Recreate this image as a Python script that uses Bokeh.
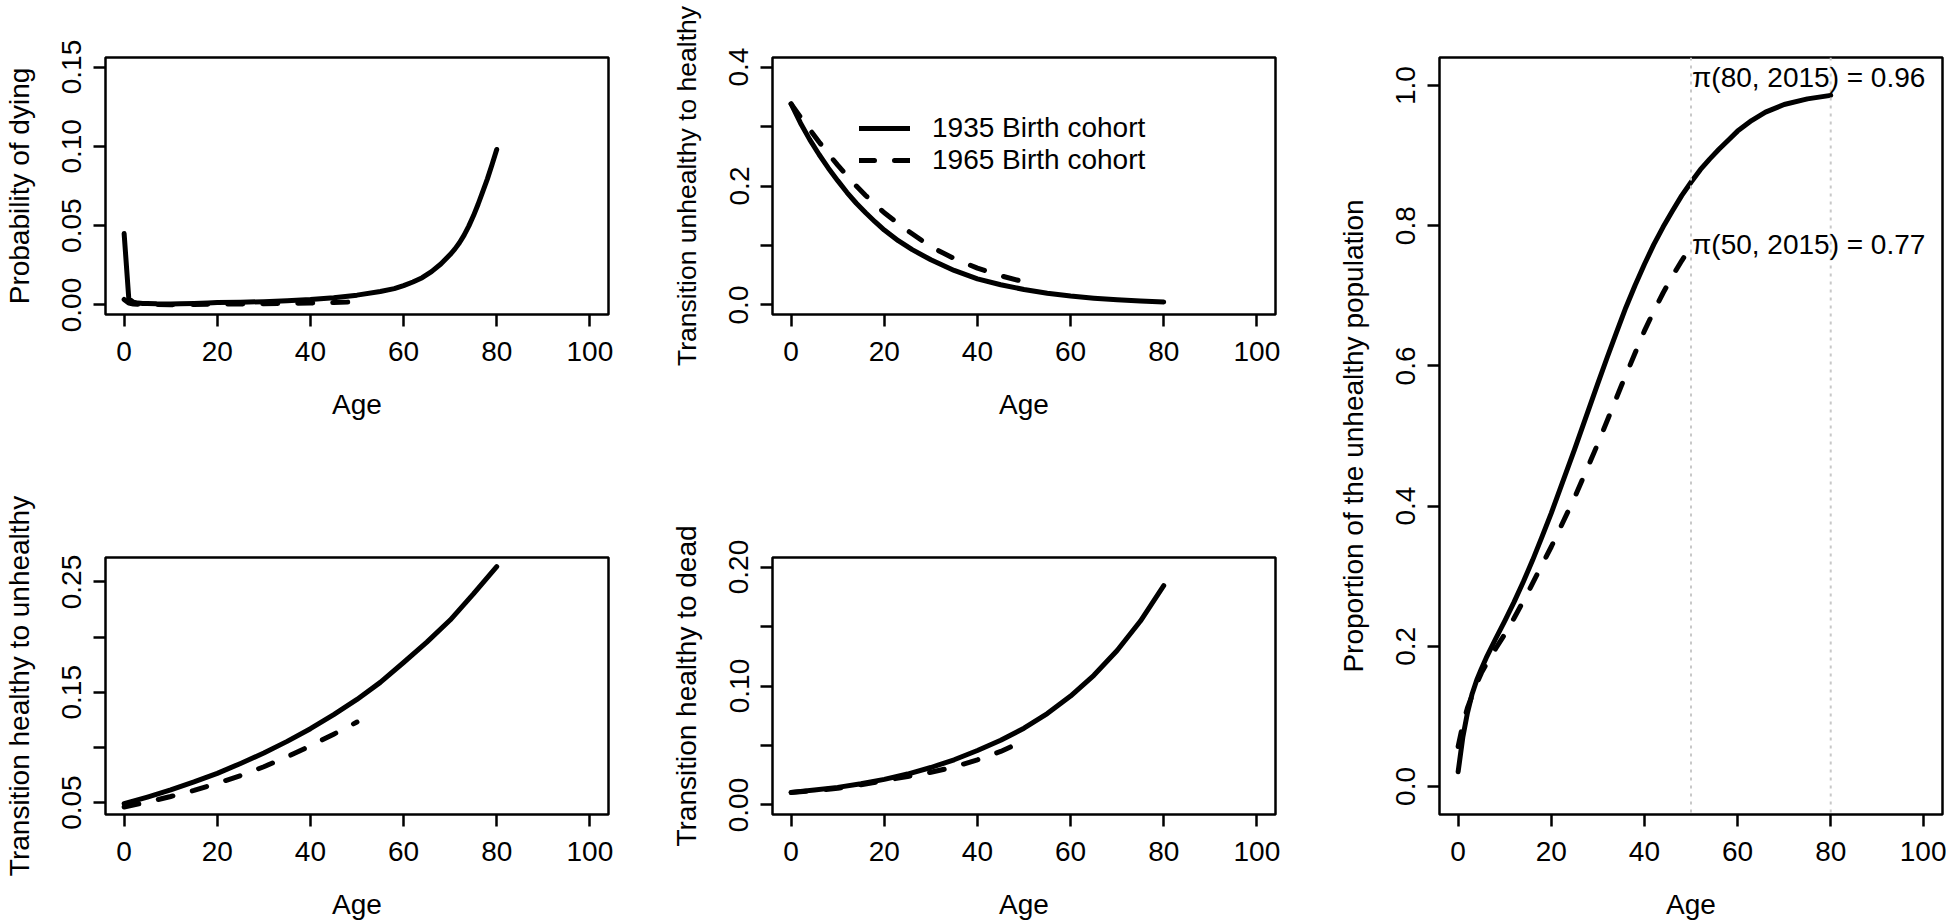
from bokeh.plotting import figure
from bokeh.layouts import row, column
from bokeh.models import Range1d, FixedTicker, Legend, LegendItem, Span, Label
from bokeh.embed import file_html
from bokeh.resources import INLINE

# ---------------- data ----------------
# Panel 1: probability of dying
age_die_1935 = [0, 1, 2, 3, 4, 5, 7, 10, 12, 15, 18, 20, 25, 30, 35, 40, 45, 50, 55, 58, 60,
                62, 64, 66, 68, 70, 71, 72, 73, 74, 75, 76, 77, 78, 79, 80]
die_1935 = [0.045, 0.004, 0.0018, 0.0012, 0.001, 0.0009, 0.0007, 0.0006, 0.0007, 0.001, 0.0013,
            0.0015, 0.0017, 0.0021, 0.0026, 0.0034, 0.0046, 0.0062, 0.0085, 0.0103, 0.0122,
            0.0145, 0.0172, 0.0210, 0.0258, 0.0318, 0.0352, 0.0392, 0.0440, 0.0497, 0.0562,
            0.0635, 0.0715, 0.0795, 0.0885, 0.098]
age_die_1965 = [0, 1, 2, 3, 5, 10, 15, 20, 25, 30, 35, 40, 45, 50]
die_1965 = [0.0035, 0.0012, 0.0006, 0.0004, 0.0003, 0.0002, 0.0003, 0.0005, 0.0006, 0.0008,
            0.001, 0.0012, 0.0015, 0.002]

# Panel 2: transition unhealthy -> healthy
age_uh_1935 = [0, 2, 4, 6, 8, 10, 12, 14, 16, 18, 20, 23, 26, 30, 35, 40, 45, 50, 55, 60, 65, 70, 75, 80]
uh_1935 = [0.338, 0.306, 0.278, 0.253, 0.230, 0.209, 0.189, 0.171, 0.155, 0.140, 0.126, 0.108,
           0.093, 0.076, 0.058, 0.044, 0.034, 0.026, 0.0198, 0.015, 0.0115, 0.0088, 0.0067, 0.005]
age_uh_1965 = [0, 2, 4, 6, 8, 10, 13, 16, 20, 25, 30, 35, 40, 45, 50]
uh_1965 = [0.338, 0.316, 0.295, 0.274, 0.254, 0.235, 0.208, 0.184, 0.155, 0.125, 0.098, 0.078,
           0.062, 0.049, 0.039]

# Panel 3: transition healthy -> unhealthy
age_hu_1935 = [0, 5, 10, 15, 20, 25, 30, 35, 40, 45, 50, 55, 60, 65, 70, 75, 80]
hu_1935 = [0.049, 0.055, 0.0615, 0.0687, 0.0765, 0.0855, 0.095, 0.1055, 0.117, 0.1298, 0.1435,
           0.159, 0.177, 0.1955, 0.2155, 0.2392, 0.264]
age_hu_1965 = [0, 5, 10, 15, 20, 25, 30, 35, 40, 45, 50]
hu_1965 = [0.046, 0.0505, 0.0555, 0.061, 0.0675, 0.0745, 0.0825, 0.0915, 0.1015, 0.112, 0.123]

# Panel 4: transition healthy -> dead
age_hd_1935 = [0, 5, 10, 15, 20, 25, 30, 35, 40, 45, 50, 55, 60, 65, 70, 75, 80]
hd_1935 = [0.0106, 0.0125, 0.0148, 0.0178, 0.0215, 0.026, 0.0315, 0.038, 0.0458, 0.0544, 0.0645,
           0.0768, 0.0915, 0.109, 0.1298, 0.1546, 0.1844]
age_hd_1965 = [0, 5, 10, 15, 20, 25, 30, 35, 40, 45, 50]
hd_1965 = [0.0105, 0.012, 0.014, 0.017, 0.0205, 0.024, 0.0275, 0.032, 0.038, 0.045, 0.054]

# Panel 5: proportion of the unhealthy population
age_pr_1935 = [0, 1, 2, 3, 4, 5, 6, 8, 10, 12, 14, 16, 18, 20, 25, 30, 32, 34, 36, 38, 40, 42,
               44, 46, 48, 50, 52, 54, 56, 58, 60, 63, 66, 70, 75, 80]
pr_1935 = [0.021, 0.07, 0.105, 0.132, 0.152, 0.168, 0.183, 0.21, 0.236, 0.263, 0.292, 0.323,
           0.356, 0.39, 0.481, 0.575, 0.612, 0.648, 0.683, 0.715, 0.745, 0.773, 0.798, 0.821,
           0.843, 0.862, 0.880, 0.895, 0.909, 0.922, 0.935, 0.950, 0.962, 0.973, 0.981, 0.986]
age_pr_1965 = [0, 1, 2, 3, 4, 5, 6, 8, 10, 12, 15, 20, 25, 30, 35, 40, 42, 44, 46, 48, 50]
pr_1965 = [0.057, 0.088, 0.112, 0.13, 0.147, 0.162, 0.174, 0.196, 0.217, 0.24, 0.277, 0.342,
           0.412, 0.489, 0.571, 0.650, 0.678, 0.704, 0.728, 0.750, 0.770]

x_ticks = [0, 20, 40, 60, 80, 100]
legend_labels = ["1935 Birth cohort", "1965 Birth cohort"]
marked_ages = [50, 80]
annotations = ["\u03c0(80, 2015) = 0.96", "\u03c0(50, 2015) = 0.77"]
annotation_y = [1.011, 0.773]

# ---------------- styling ----------------
FONT = "Liberation Sans"
FS = "28px"
LW = 5
DASH = "15 20"


def make_fig(width, height, left, right, top, bottom, x_end, y_rng, yticks, ylabels, ylabel,
             ylabel_fs=FS):
    p = figure(width=width, height=height,
               min_border_left=left, min_border_right=right,
               min_border_top=top, min_border_bottom=bottom,
               x_range=Range1d(-4, x_end), y_range=Range1d(*y_rng),
               output_backend="svg", toolbar_location=None, tools="")
    p.outline_line_color = "black"
    p.outline_line_width = 2.5
    p.grid.visible = False
    p.background_fill_color = "white"
    p.border_fill_color = "white"
    for ax in (p.xaxis[0], p.yaxis[0]):
        ax.axis_line_color = None
        ax.major_tick_in = 0
        ax.major_tick_out = 12
        ax.major_tick_line_width = 2.5
        ax.major_tick_line_color = "black"
        ax.minor_tick_line_color = None
        ax.major_label_text_font = FONT
        ax.major_label_text_font_size = FS
        ax.major_label_text_color = "black"
        ax.axis_label_text_font = FONT
        ax.axis_label_text_font_size = FS
        ax.axis_label_text_font_style = "normal"
        ax.axis_label_text_color = "black"
    xa = p.xaxis[0]
    xa.ticker = FixedTicker(ticks=x_ticks)
    xa.major_label_standoff = 15
    xa.axis_label = "Age"
    xa.axis_label_standoff = 25
    ya = p.yaxis[0]
    ya.ticker = FixedTicker(ticks=yticks)
    ya.major_label_overrides = {t: l for t, l in zip(yticks, ylabels)}
    ya.major_label_orientation = "vertical"
    ya.major_label_standoff = 12
    ya.axis_label = ylabel
    ya.axis_label_standoff = 25
    ya.axis_label_text_font_size = ylabel_fs
    return p


def draw(p, xs, ys, dashed):
    kw = dict(line_color="black", line_width=LW, line_cap="round", line_join="round")
    if dashed:
        kw["line_dash"] = DASH
    return p.line(xs, ys, **kw)


p1 = make_fig(649, 461, 104, 41, 57, 147, 104, (-0.006, 0.156),
              [0, 0.05, 0.10, 0.15], ["0.00", "0.05", "0.10", "0.15"],
              "Probability of dying")
draw(p1, age_die_1935, die_1935, False)
draw(p1, age_die_1965, die_1965, True)

p2 = make_fig(648, 461, 123, 22, 57, 147, 104, (-0.016, 0.416),
              [0, 0.1, 0.2, 0.3, 0.4], ["0.0", "", "0.2", "", "0.4"],
              "Transition unhealthy to healthy", ylabel_fs="26.5px")
r_a = draw(p2, age_uh_1935, uh_1935, False)
r_b = draw(p2, age_uh_1965, uh_1965, True)
legend = Legend(items=[LegendItem(label=legend_labels[0], renderers=[r_a]),
                       LegendItem(label=legend_labels[1], renderers=[r_b])],
                location=(87, 138), border_line_color=None, background_fill_alpha=0,
                glyph_width=51, glyph_height=32, label_height=32, label_standoff=22,
                padding=0, margin=0, spacing=0,
                label_text_font=FONT, label_text_font_size=FS, label_text_color="black")
p2.add_layout(legend)

p3 = make_fig(649, 461, 104, 41, 96, 106, 104, (0.0392, 0.2722),
              [0.05, 0.10, 0.15, 0.20, 0.25], ["0.05", "", "0.15", "", "0.25"],
              "Transition healthy to unhealthy")
draw(p3, age_hu_1935, hu_1935, False)
draw(p3, age_hu_1965, hu_1965, True)

p4 = make_fig(648, 461, 123, 22, 96, 106, 104, (-0.008, 0.208),
              [0, 0.05, 0.10, 0.15, 0.20], ["0.00", "", "0.10", "", "0.20"],
              "Transition healthy to dead")
draw(p4, age_hd_1935, hd_1935, False)
draw(p4, age_hd_1965, hd_1965, True)

p5 = make_fig(649, 922, 142, 4, 57, 106, 104, (-0.04, 1.04),
              [0, 0.2, 0.4, 0.6, 0.8, 1.0], ["0.0", "0.2", "0.4", "0.6", "0.8", "1.0"],
              "Proportion of the unhealthy population")
for a in marked_ages:
    p5.add_layout(Span(location=a, dimension="height", line_color="#c8c8c8",
                       line_dash="3 5", line_width=2))
draw(p5, age_pr_1935, pr_1935, False)
draw(p5, age_pr_1965, pr_1965, True)
for txt, yv in zip(annotations, annotation_y):
    p5.add_layout(Label(x=marked_ages[0], y=yv, text=txt, text_align="left",
                        text_baseline="middle", x_offset=1, text_font=FONT,
                        text_font_size=FS, text_color="black"))

layout = row(column(p1, p3, spacing=0), column(p2, p4, spacing=0), p5, spacing=0)

open("out.html", "w").write(file_html(layout, INLINE))
